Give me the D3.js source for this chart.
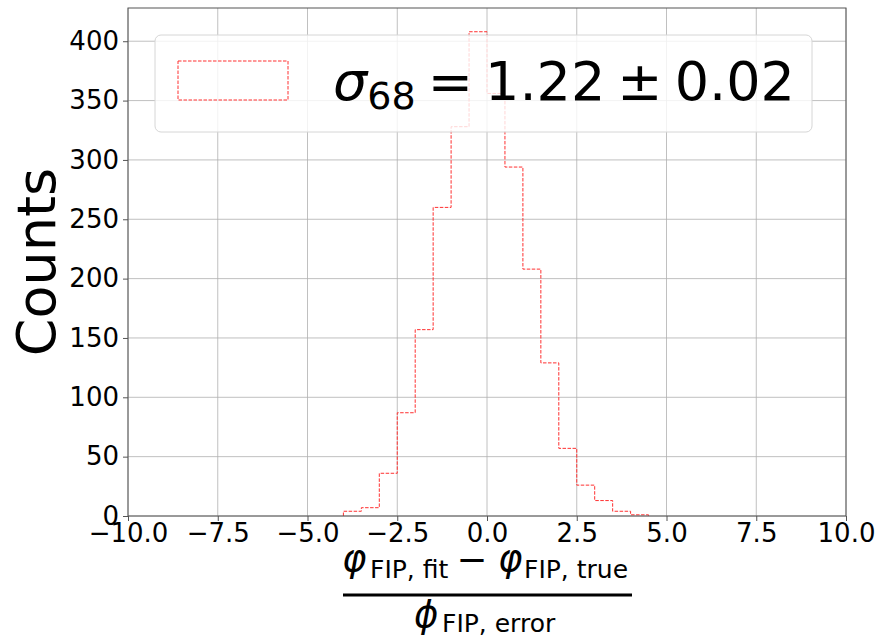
<!DOCTYPE html>
<html>
<head>
<meta charset="utf-8">
<script src="https://cdn.jsdelivr.net/npm/d3@7"></script>
<style>
  body { margin: 0; background: #fff; }
  svg { font-family: "DejaVu Sans", sans-serif; }
</style>
</head>
<body>
<svg id="chart" width="877" height="641"></svg>
<script>
// histogram bins (edges, width 0.5) and counts
const binEdges = [-4, -3.5, -3, -2.5, -2, -1.5, -1, -0.5, 0, 0.5, 1, 1.5, 2, 2.5, 3, 3.5, 4, 4.5]
const counts = [4, 7, 36, 87, 157, 260, 328, 408, 356, 294, 208, 129, 57, 26, 13, 4, 1]
const xTicks = [-10, -7.5, -5, -2.5, 0, 2.5, 5, 7.5, 10]
const yTicks = [0, 50, 100, 150, 200, 250, 300, 350, 400]

const svg = d3.select("#chart")
const W = 877, H = 641
const margin = { left: 128, right: W - 846, top: 8, bottom: H - 516 }

const x = d3.scaleLinear().domain([-10, 10]).range([margin.left, W - margin.right])
const y = d3.scaleLinear().domain([0, 428]).range([H - margin.bottom, margin.top])

// grid
const grid = svg.append("g").attr("stroke", "#b0b0b0").attr("stroke-width", 0.8)
grid.selectAll("line.gx").data(xTicks).enter().append("line")
    .attr("x1", d => x(d)).attr("x2", d => x(d))
    .attr("y1", y.range()[0]).attr("y2", y.range()[1])
grid.selectAll("line.gy").data(yTicks).enter().append("line")
    .attr("y1", d => y(d)).attr("y2", d => y(d))
    .attr("x1", x.range()[0]).attr("x2", x.range()[1])

// step outline of the histogram
const pts = [[binEdges[0], 0]]
counts.forEach((c, i) => {
    pts.push([binEdges[i], c])
    pts.push([binEdges[i + 1], c])
})
pts.push([binEdges[binEdges.length - 1], 0])

const line = d3.line().x(d => x(d[0])).y(d => y(d[1]))
svg.append("path")
    .attr("d", line(pts))
    .attr("fill", "none")
    .attr("stroke", "#ff3030")
    .attr("stroke-width", 1)
    .attr("stroke-dasharray", "3.5,1.5")

// axes
const xAxis = d3.axisBottom(x).tickValues(xTicks).tickFormat(d3.format(".1f")).tickSize(5).tickPadding(3)
const yAxis = d3.axisLeft(y).tickValues(yTicks).tickSize(5).tickPadding(4)

const gx = svg.append("g").attr("transform", `translate(0,${y(0)})`).call(xAxis)
const gy = svg.append("g").attr("transform", `translate(${x(-10)},0)`).call(yAxis)
;[gx, gy].forEach(g => {
    g.select(".domain").remove()
    g.selectAll("line").attr("stroke", "#555")
    g.selectAll("text").attr("font-size", 26).attr("fill", "#000")
        .attr("font-family", "DejaVu Sans")
})

// legend
const lg = svg.append("g")
lg.append("rect")
    .attr("x", 155).attr("y", 35).attr("width", 657).attr("height", 97)
    .attr("rx", 6)
    .attr("fill", "#fff").attr("fill-opacity", 0.8)
    .attr("stroke", "#d6d6d6").attr("stroke-width", 1)
lg.append("rect")
    .attr("x", 178).attr("y", 61).attr("width", 110).attr("height", 39)
    .attr("fill", "none")
    .attr("stroke", "#ff3030").attr("stroke-width", 1)
    .attr("stroke-dasharray", "3.5,1.5")
const lt = lg.append("text").attr("x", 333).attr("y", 100).attr("font-size", 54)
lt.append("tspan").attr("font-style", "italic").text("σ")
lt.append("tspan").attr("font-size", 38).attr("dy", 9).text("68")
const sp = () => lt.append("tspan").attr("font-size", 38).text(" ")
sp()
lt.append("tspan").attr("dy", -9).text("=")
sp()
lt.append("tspan").text("1.22")
sp()
lt.append("tspan").text("±")
sp()
lt.append("tspan").text("0.02")

// spines
svg.append("rect")
    .attr("x", x(-10)).attr("y", y(428))
    .attr("width", x(10) - x(-10)).attr("height", y(0) - y(428))
    .attr("fill", "none").attr("stroke", "#555").attr("stroke-width", 1)

// y label
svg.append("text")
    .attr("transform", `translate(55,${(y(0) + y(428)) / 2}) rotate(-90)`)
    .attr("text-anchor", "middle")
    .attr("font-size", 54)
    .text("Counts")

// x label as a fraction
const lab = svg.append("g").attr("font-size", 37)
lab.append("text").attr("x", 342).attr("y", 571).attr("font-style", "italic").text("φ")
lab.append("text").attr("x", 370).attr("y", 578).attr("font-size", 25).text("FIP, fit")
lab.append("text").attr("x", 472).attr("y", 572).attr("text-anchor", "middle").text("−")
lab.append("text").attr("x", 498).attr("y", 571).attr("font-style", "italic").text("φ")
lab.append("text").attr("x", 524).attr("y", 578).attr("font-size", 25).text("FIP, true")

lab.append("line")
    .attr("x1", 343).attr("x2", 632).attr("y1", 595).attr("y2", 595)
    .attr("stroke", "#000").attr("stroke-width", 3)

lab.append("text").attr("x", 414).attr("y", 627).attr("font-style", "italic").text("ϕ")
lab.append("text").attr("x", 442).attr("y", 632).attr("font-size", 25).text("FIP, error")
</script>
</body>
</html>
